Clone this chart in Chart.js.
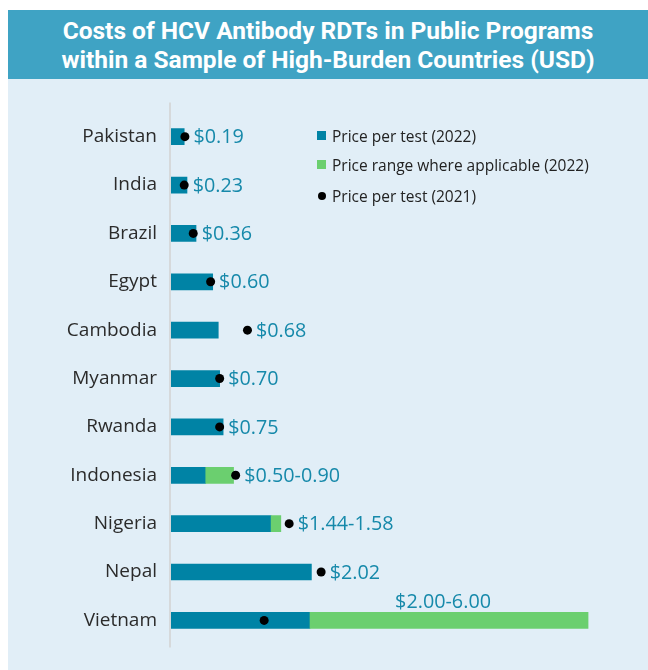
<!DOCTYPE html>
<html>
<head>
<meta charset="utf-8">
<script src="https://cdn.jsdelivr.net/npm/chart.js@4.4.1/dist/chart.umd.min.js"></script>
<style>
  html, body { margin: 0; padding: 0; background: #ffffff; }
  body { width: 648px; height: 670px; position: relative; overflow: hidden; }
  #title {
    position: absolute; left: 8px; top: 10px; width: 640px; height: 69px;
    background: #3fa3c4; color: #ffffff;
    font-family: Roboto, "Liberation Sans", sans-serif; font-weight: bold;
    font-size: 24.5px; line-height: 29px; text-align: center;
    display: flex; align-items: center; justify-content: center;
  }
  #panel { position: absolute; left: 8px; top: 79px; width: 640px; height: 591px; background: #e1eef7; }
  #chartWrap { position: absolute; left: 0; top: 0; width: 640px; height: 591px; }
  #legend { position: absolute; left: 309px; top: 0; font-family: "Open Sans", sans-serif; font-size: 15.5px; color: #222; }
  .li { position: absolute; left: 0; white-space: nowrap; height: 20px; line-height: 20px; }
  .sw { position: absolute; left: 0; top: 5px; width: 9px; height: 9px; }
  .dot { position: absolute; left: 0.5px; top: 6px; width: 8px; height: 8px; border-radius: 50%; background: #000; }
  .lt { position: absolute; left: 15px; top: 0; }
</style>
</head>
<body>
<div id="title">Costs of HCV Antibody RDTs in Public Programs<br>within a Sample of High-Burden Countries (USD)</div>
<div id="panel">
  <div id="chartWrap"><canvas id="c" width="640" height="591"></canvas></div>
  <div id="legend"></div>
</div>
<script>
const categories = ['Pakistan','India','Brazil','Egypt','Cambodia','Myanmar','Rwanda','Indonesia','Nigeria','Nepal','Vietnam'];
const price2022Low  = [0.19, 0.23, 0.36, 0.60, 0.68, 0.70, 0.75, 0.50, 1.44, 2.02, 2.00];
const price2022High = [null, null, null, null, null, null, null, 0.90, 1.58, null, 6.00];
const price2021     = [0.20, 0.19, 0.32, 0.57, 1.10, 0.70, 0.70, 0.93, 1.70, 2.16, 1.34];
const valueLabels   = ['$0.19','$0.23','$0.36','$0.60','$0.68','$0.70','$0.75','$0.50-0.90','$1.44-1.58','$2.02','$2.00-6.00'];
const legendLabels  = ['Price per test (2022)','Price range where applicable (2022)','Price per test (2021)'];

const TEAL = '#0083a5', GREEN = '#6bcf6f', LABEL = '#1689aa';

// legend (HTML)
const lg = document.getElementById('legend');
const legendTops = [47, 76, 107];
legendLabels.forEach((t, i) => {
  const d = document.createElement('div');
  d.className = 'li';
  d.style.top = legendTops[i] + 'px';
  const m = document.createElement('span');
  if (i < 2) { m.className = 'sw'; m.style.background = i === 0 ? TEAL : GREEN; }
  else { m.className = 'dot'; }
  const s = document.createElement('span');
  s.className = 'lt'; s.textContent = t;
  d.appendChild(m); d.appendChild(s);
  lg.appendChild(d);
});

const axisLine = {
  id: 'axisLine',
  beforeDatasetsDraw(chart) {
    const ctx = chart.ctx, a = chart.chartArea;
    ctx.save();
    ctx.strokeStyle = '#d6d9db';
    ctx.lineWidth = 2;
    ctx.beginPath();
    ctx.moveTo(a.left - 1, a.top - 10);
    ctx.lineTo(a.left - 1, a.bottom + 3);
    ctx.stroke();
    ctx.restore();
  }
};

const valueLabelPlugin = {
  id: 'valueLabels',
  afterDatasetsDraw(chart) {
    const ctx = chart.ctx, xs = chart.scales.x, ys = chart.scales.y;
    ctx.save();
    ctx.fillStyle = LABEL;
    ctx.font = '19.8px "Open Sans", sans-serif';
    categories.forEach((c, i) => {
      const y = ys.getPixelForValue(i);
      const hi = price2022High[i] != null ? price2022High[i] : price2022Low[i];
      const barEnd = xs.getPixelForValue(hi);
      const dotEdge = xs.getPixelForValue(price2021[i]) + 4.5;
      if (price2022High[i] != null && price2022High[i] - price2022Low[i] > 2) {
        const mid = (xs.getPixelForValue(price2022Low[i]) + barEnd) / 2;
        ctx.textAlign = 'center';
        ctx.textBaseline = 'middle';
        ctx.fillText(valueLabels[i], mid - 6, y - 18);
      } else {
        ctx.textAlign = 'left';
        ctx.textBaseline = 'middle';
        ctx.fillText(valueLabels[i], Math.max(barEnd, dotEdge) + 4, y + 1);
      }
    });
    ctx.restore();
  }
};

new Chart(document.getElementById('c'), {
  type: 'bar',
  data: {
    labels: categories,
    datasets: [
      {
        type: 'line',
        label: legendLabels[2],
        data: price2021.map((v, i) => ({ x: v, y: categories[i] })),
        showLine: false,
        pointRadius: 4.5,
        pointBackgroundColor: '#000',
        pointBorderWidth: 0,
        order: 0
      },
      {
        label: legendLabels[0],
        data: price2022Low,
        backgroundColor: TEAL,
        barThickness: 16,
        order: 2
      },
      {
        label: legendLabels[1],
        data: price2022Low.map((v, i) => price2022High[i] != null ? [v, price2022High[i]] : null),
        backgroundColor: GREEN,
        barThickness: 16,
        order: 1
      }
    ]
  },
  options: {
    indexAxis: 'y',
    responsive: false,
    animation: false,
    layout: { padding: { left: 0, right: 53, top: 33.5, bottom: 24.5 } },
    plugins: { legend: { display: false }, tooltip: { enabled: false } },
    scales: {
      x: { display: false, min: 0, max: 6.1, stacked: false },
      y: {
        stacked: true,
        grid: { display: false, drawTicks: false },
        border: { display: false },
        ticks: { color: '#2b2b2b', padding: 14, font: { family: '"Open Sans", sans-serif', size: 19 } },
        afterFit(scale) { scale.width = 163; }
      }
    }
  },
  plugins: [axisLine, valueLabelPlugin]
});
</script>
</body>
</html>
